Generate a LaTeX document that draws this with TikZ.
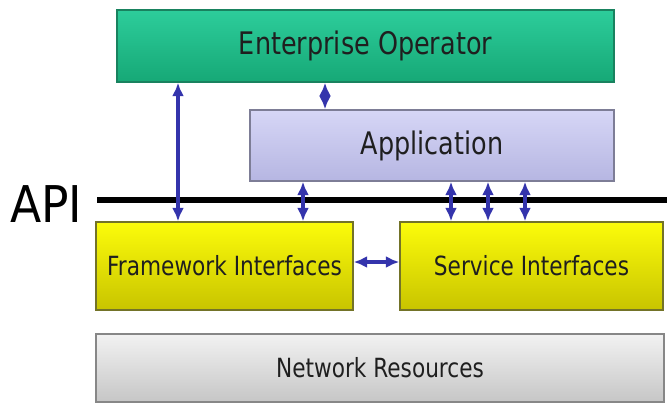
\documentclass[tikz,border=0pt]{standalone}
\usepackage{fontspec}
\setmainfont{DejaVu Sans}[FakeStretch=0.82]
\newfontfamily\apifont{DejaVu Sans}[FakeStretch=0.9]
\usetikzlibrary{arrows.meta}
\usetikzlibrary{positioning}
\definecolor{optop}{RGB}{45,205,155}
\definecolor{opbot}{RGB}{22,168,118}
\definecolor{opline}{RGB}{25,130,95}
\definecolor{apptop}{RGB}{214,214,246}
\definecolor{appbot}{RGB}{182,182,226}
\definecolor{appline}{RGB}{125,125,150}
\definecolor{ifacetop}{RGB}{252,252,10}
\definecolor{ifacebot}{RGB}{200,196,0}
\definecolor{ifaceline}{RGB}{115,115,40}
\definecolor{restop}{RGB}{242,242,242}
\definecolor{resbot}{RGB}{198,198,198}
\definecolor{resline}{RGB}{135,135,135}
\definecolor{linkblue}{RGB}{52,52,172}
\tikzset{
    layer/.style={draw=#1line, line width=1.1pt, inner sep=0pt,
        top color=#1top, bottom color=#1bot, text=black!88},
    bigtext/.style={font=\fontsize{23.3}{28}\selectfont},
    smalltext/.style={font=\fontsize{19.8}{24}\selectfont},
    link/.style={draw=linkblue, line width=2.4pt, <->,
        >={Latex[length=10pt,width=9pt]}},
    apiline/.style={draw=black, line width=4.5pt},
}
\begin{document}
\begin{tikzpicture}[x=0.75pt, y=-0.75pt]
	\useasboundingbox (0,0) rectangle (667,404);
	% layers
	\node[layer=op, bigtext, minimum width=372.75pt, minimum height=54pt] (eo) at (365.5,46) {Enterprise Operator};
	\node[layer=app, bigtext, minimum width=273pt, minimum height=53.25pt] (app) at (432,145.5) {Application};
	\node[layer=iface, smalltext, minimum width=192.75pt, minimum height=66pt] (fw) at (224.5,266) {Framework Interfaces};
	\node[layer=iface, smalltext, minimum width=197.25pt, minimum height=66pt] (si) at (531.5,266) {Service Interfaces};
	\node[layer=res, smalltext, minimum width=426pt, minimum height=51pt] (nr) at (380,368) {Network Resources};
	% api
	\node[anchor=base west, inner sep=0pt, font=\apifont\fontsize{38}{44}\selectfont] (api) at (10,222) {API};
	\coordinate (apistart) at (97,200);
	\coordinate (apiend) at (667,200);
	\draw[apiline] (apistart) -- (apiend);
	% links
	\draw[link] (eo.south -| 178,0) -- (fw.north -| 178,0);
	\draw[link] (eo.south -| 325,0) -- (app.north -| 325,0);
	\draw[link] (app.south -| 303,0) -- (fw.north -| 303,0);
	\draw[link] (app.south -| 451,0) -- (si.north -| 451,0);
	\draw[link] (app.south -| 488,0) -- (si.north -| 488,0);
	\draw[link] (app.south -| 525,0) -- (si.north -| 525,0);
	\draw[link] (fw.east |- 0,262) -- (si.west |- 0,262);
\end{tikzpicture}
\end{document}
